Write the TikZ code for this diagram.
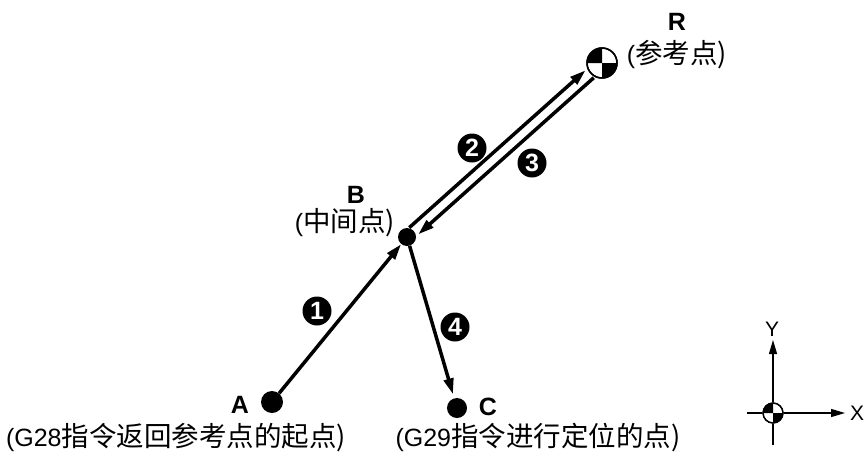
\documentclass[tikz,border=0pt]{standalone}
\usepackage{fontspec}
\setmainfont{Liberation Sans}
\newfontfamily\cjk[Scale=1.1]{Noto Sans CJK SC}
\usetikzlibrary{arrows.meta,calc}
\begin{document}
\begin{tikzpicture}[x=1pt,y=-1pt,
  dot/.style={circle,fill=black,minimum size=20pt,inner sep=0pt},
  ptlabel/.style={font=\fontsize{25}{28}\selectfont\bfseries,inner sep=0pt},
  desc/.style={font=\fontsize{25}{30}\selectfont,inner sep=0pt},
  num/.style={circle,fill=black,text=white,minimum size=29pt,inner sep=0pt,font=\fontsize{25}{25}\selectfont\bfseries},
  mv/.style={line width=3.5pt,-{Triangle[length=16pt,width=9.5pt]}},
  ax/.style={line width=1.3pt,-{Triangle[length=14pt,width=8pt]}},
  axl/.style={line width=1.3pt},
  refsym/.style={circle,draw,line width=1.5pt,inner sep=0pt},
]
\useasboundingbox (0,0) rectangle (864,455);

% points
\node[dot,minimum size=22pt] (A) at (272,402) {};
\node[dot,minimum size=18pt] (B) at (407,237) {};
\node[dot] (C) at (457,408) {};

% reference point symbol
\node[refsym,minimum size=30pt] (R) at (602,63) {};
\fill (R.center) -- ++(90:15pt) arc[start angle=90,end angle=180,radius=15pt] -- cycle;
\fill (R.center) -- ++(-90:15pt) arc[start angle=-90,end angle=0,radius=15pt] -- cycle;
\draw[line width=1.5pt] (R.center) circle[radius=15pt];

% movement arrows
\draw[mv] (A) -- (B);
\coordinate (b2a) at ($(B)!8pt!(R)$);
\coordinate (b2) at ($(b2a)!5.5pt!90:(R)$);
\coordinate (r2a) at ($(R)!17pt!(B)$);
\coordinate (r2) at ($(r2a)!5.5pt!-90:(B)$);
\draw[mv] (b2) -- (r2);
\coordinate (r3a) at ($(R)!16pt!(B)$);
\coordinate (r3) at ($(r3a)!5.5pt!90:(B)$);
\coordinate (b3a) at ($(B)!10pt!(R)$);
\coordinate (b3) at ($(b3a)!5.5pt!-90:(R)$);
\draw[mv] (r3) -- (b3);
\draw[mv,shorten >=4pt] (B) -- (C);

% step numbers
\node[num] (n1) at (317,311) {1};
\node[num] (n2) at (472,148) {2};
\node[num] (n3) at (532,163) {3};
\node[num] (n4) at (455,327) {4};

% labels
\node[ptlabel] (Alab) at (240,405) {A};
\node[desc] (Adesc) at (176,438) {(G28\cjk{指令返回参考点的起点})};
\node[ptlabel] (Blab) at (356,195) {B};
\node[desc] (Bdesc) at (345,223) {(\cjk{中间点})};
\node[ptlabel] (Clab) at (488,407) {C};
\node[desc] (Cdesc) at (538,438) {(G29\cjk{指令进行定位的点})};
\node[ptlabel] (Rlab) at (677,22) {R};
\node[desc] (Rdesc) at (677,55) {(\cjk{参考点})};

% coordinate system
\node[refsym,line width=1.3pt,minimum size=20pt] (O) at (773,413) {};
\fill (O.center) -- ++(90:10pt) arc[start angle=90,end angle=180,radius=10pt] -- cycle;
\fill (O.center) -- ++(-90:10pt) arc[start angle=-90,end angle=0,radius=10pt] -- cycle;
\draw[line width=1.3pt] (O.center) circle[radius=10pt];
\coordinate (ytip) at (773,340);
\coordinate (ybot) at (773,445);
\coordinate (xleft) at (747,413);
\coordinate (xtip) at (845,413);
\draw[ax] (O.north) -- (ytip);
\draw[axl] (ybot) -- (O.south);
\draw[ax] (O.east) -- (xtip);
\draw[axl] (xleft) -- (O.west);
\node[font=\fontsize{21}{24}\selectfont,inner sep=0pt] (Y) at (772,329) {Y};
\node[font=\fontsize{21}{24}\selectfont,inner sep=0pt] (X) at (857,413) {X};
\end{tikzpicture}
\end{document}
